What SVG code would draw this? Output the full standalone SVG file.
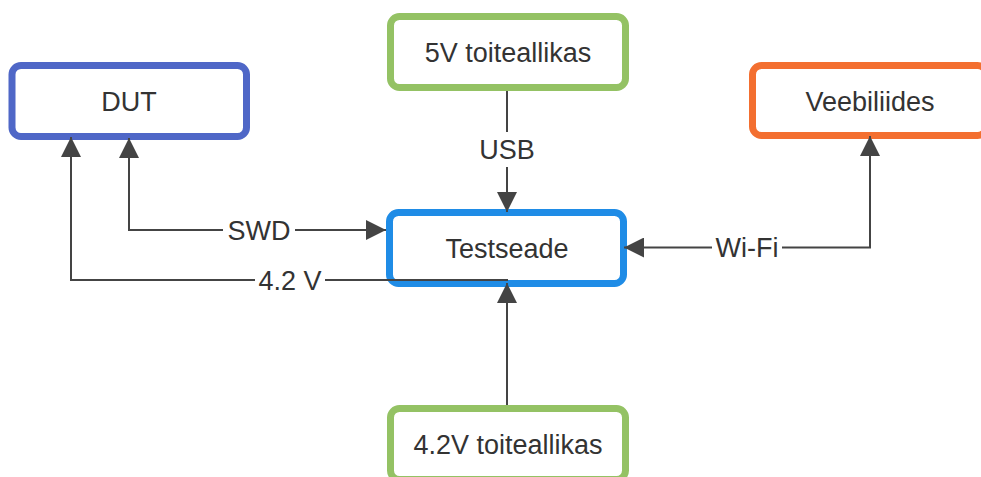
<svg xmlns="http://www.w3.org/2000/svg" width="981" height="477" viewBox="0 0 981 477">
<defs>
<style>
.node{fill:#ffffff;stroke-width:7}
.txt{font-family:"Liberation Sans",Arial,sans-serif;font-size:27px;fill:#333333;text-anchor:middle}
.conn{fill:none;stroke:#444444;stroke-width:2}
.lblbg{fill:#ffffff}
</style>
<marker id="arrow" viewBox="0 0 20 20" refX="20" refY="10" markerWidth="20" markerHeight="20" markerUnits="userSpaceOnUse" orient="auto-start-reverse">
<path d="M0,0 L20,10 L0,20 z" fill="#444444"/>
</marker>
</defs>
<rect width="981" height="477" fill="#ffffff"/>
<g id="node-dut">
<rect class="node" x="12" y="65.5" width="234.5" height="71" rx="9" stroke="#4f67c7"/>
<text class="txt" x="129" y="111">DUT</text>
</g>
<g id="node-5v">
<rect class="node" x="390.5" y="16.5" width="235" height="71" rx="9" stroke="#94c264"/>
<text class="txt" x="508" y="62">5V toiteallikas</text>
</g>
<g id="node-veebiliides">
<rect class="node" x="752.5" y="65.5" width="234" height="70" rx="9" stroke="#f36f30"/>
<text class="txt" x="870" y="111">Veebiliides</text>
</g>
<g id="node-testseade">
<rect class="node" x="389.5" y="212.5" width="234" height="71" rx="9" stroke="#1f8ce6"/>
<text class="txt" x="507" y="258">Testseade</text>
</g>
<g id="node-42v">
<rect class="node" x="390.5" y="408.5" width="235" height="71" rx="9" stroke="#94c264"/>
<text class="txt" x="508" y="454">4.2V toiteallikas</text>
</g>
<g id="connectors">
<path class="conn" d="M507,91 L507,212" marker-end="url(#arrow)"/>
<path class="conn" d="M507,405 L507,283" marker-end="url(#arrow)"/>
<path class="conn" d="M386,230 L129,230 L129,138" marker-start="url(#arrow)" marker-end="url(#arrow)"/>
<path class="conn" d="M508,280 L71,280 L71,137" marker-end="url(#arrow)"/>
<path class="conn" d="M624,247.5 L870,247.5 L870,136" marker-start="url(#arrow)" marker-end="url(#arrow)"/>
<rect class="lblbg" x="477" y="132" width="60" height="35"/>
<text class="txt" x="507" y="159">USB</text>
<rect class="lblbg" x="223" y="215" width="72" height="30"/>
<text class="txt" x="259" y="240">SWD</text>
<rect class="lblbg" x="255" y="265" width="70" height="30"/>
<text class="txt" x="290" y="290">4.2 V</text>
<rect class="lblbg" x="712" y="232" width="70" height="30"/>
<text class="txt" x="747" y="257">Wi-Fi</text>
</g>
</svg>
